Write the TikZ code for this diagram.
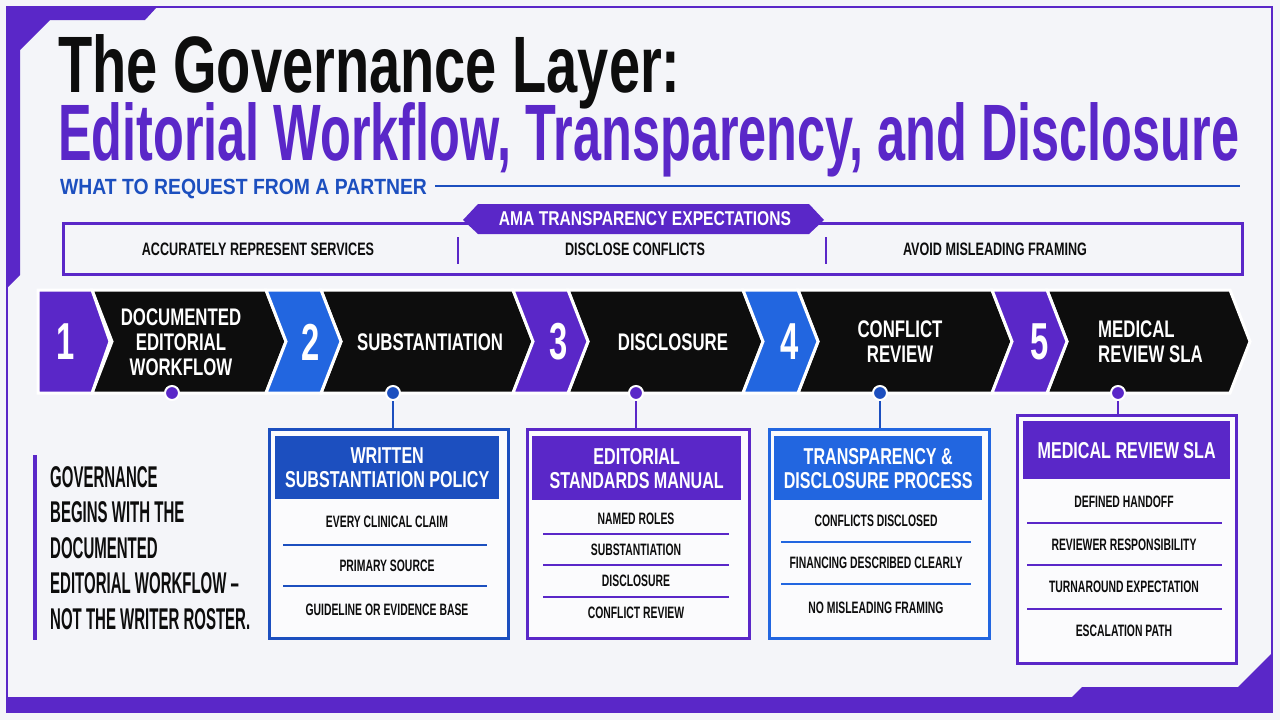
\documentclass[tikz,border=0pt]{standalone}
\usepackage{fontspec}
\setmainfont{Liberation Sans}[FakeStretch=0.63]
\newfontfamily\condfont{Liberation Sans}[FakeStretch=0.70]
\newfontfamily\bannerfont{Liberation Sans}[FakeStretch=0.78]
\newfontfamily\widefont{Liberation Sans}[FakeStretch=0.88]
\newfontfamily\narrowfont{Liberation Sans}[FakeStretch=0.50]
\usetikzlibrary{calc}

\definecolor{govpurple}{HTML}{5A27C8}
\definecolor{govblue}{HTML}{1C4FBF}
\definecolor{govbright}{HTML}{2266E0}
\definecolor{govbg}{HTML}{F4F5F9}
\definecolor{govink}{HTML}{0D0D0D}

\begin{document}
\begin{tikzpicture}[x=1pt, y=-1pt,
  every node/.style={inner sep=0pt},
  chev/.style={fill=govink, draw=white, line width=3pt, line join=miter},
  tabfill/.style={draw=white, line width=3pt, line join=miter},
  stagetext/.style={text=white, align=center, font=\condfont\fontsize{24}{25}\selectfont\bfseries},
  numtext/.style={text=white, font=\fontsize{52}{52}\selectfont\bfseries},
  card/.style={draw, line width=2.5pt, fill=white!60!govbg, anchor=north west},
  cardhead/.style={anchor=north west, text=white, align=center, font=\condfont\fontsize{23}{24}\selectfont\bfseries},
  item/.style={text=govink, font=\fontsize{16.5}{17}\selectfont\bfseries},
  rowtext/.style={text=govink, font=\condfont\fontsize{18}{18}\selectfont\bfseries},
  dotmark/.style={circle, draw=white, line width=2pt, minimum size=14pt}]
  % page and frame
  \fill[govbg] (0,0) rectangle (1280,720);
  \useasboundingbox (0,0) rectangle (1280,720);
  \draw[govpurple, line width=2pt] (7,7) rectangle (1272,712);
  \fill[govpurple] (7,7) -- (157,7) -- (145,20) -- (50,20) -- (20,50) -- (20,275) -- (7,288) -- cycle;
  \fill[govpurple] (7,697) -- (1072,697) -- (1082,687) -- (1238,687) -- (1272,653) -- (1272,712) -- (7,712) -- cycle;

  % titles
  \node[anchor=base west, text depth=0pt, text=govink, font=\condfont\fontsize{80}{80}\selectfont\bfseries] (title) at (58,92) {The Governance Layer:};
  \node[anchor=base west, text height=57pt, text=govpurple, font=\fontsize{80}{80}\selectfont\bfseries] (subtitle) at (58,160) {Editorial Workflow, Transparency, and Disclosure};
  \node[anchor=base west, text=govblue, font=\widefont\fontsize{22}{22}\selectfont\bfseries] (req) at (60,194) {WHAT TO REQUEST FROM A PARTNER};
  \coordinate (reqend) at (1240,186);
  \draw[govblue, line width=2pt] (req.east |- reqend) ++(8,0) -- (reqend);

  % AMA expectations strip
  \node[draw=govpurple, line width=2.5pt, minimum width=1179, minimum height=51, anchor=north west] (amabox) at (62,222) {};
  \fill[govpurple] (463,220) -- (478,204) -- (809,204) -- (824,220) -- (809,234) -- (478,234) -- cycle;
  \node[text=white, font=\bannerfont\fontsize{20}{20}\selectfont\bfseries] (amahead) at (645,219) {AMA TRANSPARENCY EXPECTATIONS};
  \node[rowtext] (ama1) at (258,249) {ACCURATELY REPRESENT SERVICES};
  \node[rowtext] (ama2) at (635,249) {DISCLOSE CONFLICTS};
  \node[rowtext] (ama3) at (995,249) {AVOID MISLEADING FRAMING};
  \draw[govpurple, line width=2pt] (458,237) -- (458,264);
  \draw[govpurple, line width=2pt] (826,237) -- (826,264);

  % stage chevrons
  \draw[chev] (92,290) -- (266,290) -- (286,341.5) -- (266,393) -- (92,393) -- (112,341.5) -- cycle;
  \draw[chev] (321,290) -- (513,290) -- (533,341.5) -- (513,393) -- (321,393) -- (341,341.5) -- cycle;
  \draw[chev] (568,290) -- (743,290) -- (763,341.5) -- (743,393) -- (568,393) -- (588,341.5) -- cycle;
  \draw[chev] (798,290) -- (992,290) -- (1012,341.5) -- (992,393) -- (798,393) -- (818,341.5) -- cycle;
  \draw[chev] (1047,290) -- (1230,290) -- (1250,341.5) -- (1230,393) -- (1047,393) -- (1067,341.5) -- cycle;
  \draw[tabfill, fill=govpurple] (38,290) -- (92,290) -- (110,341.5) -- (92,393) -- (38,393) -- cycle;
  \foreach \a/\c in {266/govbright, 513/govpurple, 743/govbright, 992/govpurple}
    \draw[tabfill, fill=\c] (\a,290) -- (\a+55,290) -- (\a+75,341.5) -- (\a+55,393) -- (\a,393) -- (\a+20,341.5) -- cycle;
  \node[numtext] (num1) at (66,342) {1};
  \node[numtext] (num2) at (311,342) {2};
  \node[numtext] (num3) at (559,342) {3};
  \node[numtext] (num4) at (790,342) {4};
  \node[numtext] (num5) at (1040,342) {5};
  \node[stagetext] (stage1) at (181,342) {DOCUMENTED\\EDITORIAL\\WORKFLOW};
  \node[stagetext] (stage2) at (430,342) {SUBSTANTIATION};
  \node[stagetext] (stage3) at (673,342) {DISCLOSURE};
  \node[stagetext] (stage4) at (900,342) {CONFLICT\\REVIEW};
  \node[stagetext, align=left, anchor=west] (stage5) at (1098,342) {MEDICAL\\REVIEW SLA};

  % markers under the chevrons
  \node[dotmark, fill=govpurple] (dot1) at (172,393) {};
  \node[dotmark, fill=govblue] (dot2) at (393,393) {};
  \node[dotmark, fill=govpurple] (dot3) at (636,393) {};
  \node[dotmark, fill=govblue] (dot4) at (880,393) {};
  \node[dotmark, fill=govpurple] (dot5) at (1118,393) {};

  % left callout
  \fill[govpurple] (33,455) rectangle (37,640);
  \node[anchor=north west, align=left, text=govink, font=\narrowfont\fontsize{30}{35.5}\selectfont\bfseries] (callout) at (50,466)
    {GOVERNANCE\\BEGINS WITH THE\\DOCUMENTED\\EDITORIAL WORKFLOW –\\NOT THE WRITER ROSTER.};

  % card 2: substantiation policy
  \node[card, draw=govblue, minimum width=239, minimum height=209] (box2) at (268,428) {};
  \node[cardhead, fill=govblue, minimum width=224, minimum height=63] (head2) at (275,436) {WRITTEN\\SUBSTANTIATION POLICY};
  \node[item] (item21) at (387,522) {EVERY CLINICAL CLAIM};
  \node[item] (item22) at (387,566) {PRIMARY SOURCE};
  \node[item] (item23) at (387,610) {GUIDELINE OR EVIDENCE BASE};
  \draw[govblue, line width=1.2pt] (283,545) -- (487,545);
  \draw[govblue, line width=1.2pt] (283,586) -- (487,586);
  \draw[govblue, line width=2pt] (dot2) -- (dot2 |- box2.north);

  % card 3: editorial standards manual
  \node[card, draw=govpurple, minimum width=222, minimum height=209] (box3) at (526,428) {};
  \node[cardhead, fill=govpurple, minimum width=209, minimum height=64] (head3) at (532,436) {EDITORIAL\\STANDARDS MANUAL};
  \node[item] (item31) at (636,519) {NAMED ROLES};
  \node[item] (item32) at (636,550) {SUBSTANTIATION};
  \node[item] (item33) at (636,581) {DISCLOSURE};
  \node[item] (item34) at (636,613) {CONFLICT REVIEW};
  \draw[govpurple, line width=1.2pt] (543,534) -- (729,534);
  \draw[govpurple, line width=1.2pt] (543,565) -- (729,565);
  \draw[govpurple, line width=1.2pt] (543,597) -- (729,597);
  \draw[govpurple, line width=2pt] (dot3) -- (dot3 |- box3.north);

  % card 4: transparency and disclosure
  \node[card, draw=govbright, minimum width=220, minimum height=209] (box4) at (768,428) {};
  \node[cardhead, fill=govbright, minimum width=208, minimum height=64] (head4) at (774,436) {TRANSPARENCY \&\\DISCLOSURE PROCESS};
  \node[item] (item41) at (876,521) {CONFLICTS DISCLOSED};
  \node[item] (item42) at (876,563) {FINANCING DESCRIBED CLEARLY};
  \node[item] (item43) at (876,608) {NO MISLEADING FRAMING};
  \draw[govbright, line width=1.2pt] (781,542) -- (971,542);
  \draw[govbright, line width=1.2pt] (781,584) -- (971,584);
  \draw[govblue, line width=2pt] (dot4) -- (dot4 |- box4.north);

  % card 5: medical review SLA
  \node[card, draw=govpurple, minimum width=219, minimum height=248] (box5) at (1016,414) {};
  \node[cardhead, fill=govpurple, minimum width=207, minimum height=58] (head5) at (1023,421) {MEDICAL REVIEW SLA};
  \node[item] (item51) at (1124,502) {DEFINED HANDOFF};
  \node[item] (item52) at (1124,545) {REVIEWER RESPONSIBILITY};
  \node[item] (item53) at (1124,587) {TURNAROUND EXPECTATION};
  \node[item] (item54) at (1124,631) {ESCALATION PATH};
  \draw[govpurple, line width=1.2pt] (1027,523) -- (1222,523);
  \draw[govpurple, line width=1.2pt] (1027,565) -- (1222,565);
  \draw[govpurple, line width=1.2pt] (1027,609) -- (1222,609);
  \draw[govpurple, line width=2pt] (dot5) -- (dot5 |- box5.north);
\end{tikzpicture}
\end{document}
